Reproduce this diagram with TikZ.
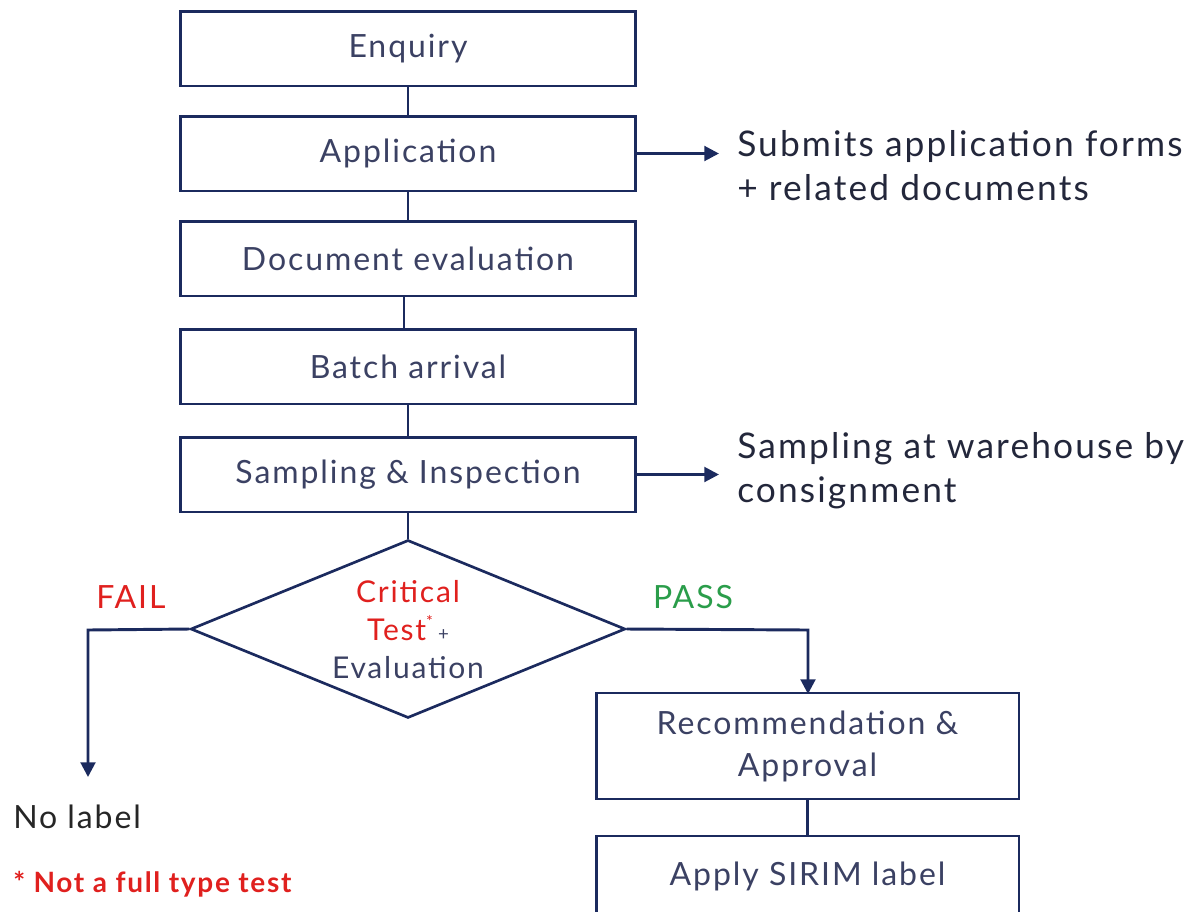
\documentclass[tikz,border=0pt]{standalone}
\usepackage{fontspec}
\setmainfont{Lato}[LetterSpace=6]
\usetikzlibrary{shapes.geometric,arrows.meta}
\definecolor{navy}{HTML}{1B2A5E}
\definecolor{ink}{HTML}{3B4163}
\definecolor{alert}{HTML}{E0201E}
\definecolor{okgreen}{HTML}{2A9D4A}
\tikzset{
  stage/.style={draw=navy, line width=2pt, minimum width=341pt, inner sep=0pt,
    text=ink, font=\fontsize{24}{29}\selectfont, align=center},
  link/.style={draw=navy, line width=2.2pt},
  flow/.style={link, -{Triangle[length=11pt,width=11pt]}},
  note/.style={anchor=west, text=ink!60!black, font=\fontsize{26.5}{33}\selectfont, align=left, inner sep=0pt},
}
\begin{document}
\begin{tikzpicture}[x=0.75pt,y=-0.75pt]
\useasboundingbox (0,0) rectangle (1202,911);
\begin{scope}
\clip (0,0) rectangle (1202,911);
% main column of stages
\node[stage, minimum height=56pt] (enq) at (408,48.5) {Enquiry};
\node[stage, minimum height=56pt] (app) at (408,153.5) {Application};
\node[stage, minimum height=56pt] (doc) at (408,258.5) {Document evaluation};
\node[stage, minimum height=56pt] (bat) at (408,366.5) {Batch arrival};
\node[stage, minimum height=56pt] (smp) at (408,474.5) {Sampling \& Inspection};
% decision
\node[draw=navy, line width=2pt, shape=diamond, aspect=2.44, inner sep=0pt,
  minimum width=326pt, minimum height=133.5pt] (crit) at (408,629) {};
\node[align=center, font=\fontsize{22.5}{28.5}\selectfont, text=ink] (critt) at (408,630)
  {\textcolor{alert}{Critical}\\\textcolor{alert}{Test\raisebox{0.45em}{\fontsize{12}{12}\selectfont*}}\,{\fontsize{14}{14}\selectfont+}\\Evaluation};
% pass branch
\node[stage, minimum width=317pt, minimum height=79.5pt, font=\fontsize{24}{31.5}\selectfont] (rec) at (807.5,746) {Recommendation \&\\Approval};
\node[stage, minimum width=317pt, minimum height=79.5pt] (sir) at (807.5,889) {};
\node[text=ink, font=\fontsize{24}{29}\selectfont] (sirt) at (807.5,876) {Apply SIRIM label};
% side notes
\node[note] (subm) at (737,166) {Submits application forms\\+ related documents};
\node[note] (cons) at (737,471) {Sampling at warehouse by\\consignment};
\coordinate (subend) at (719,153.5);
\coordinate (conend) at (719,474.5);
% connectors
\draw[link] (enq) -- (app);
\draw[link] (app) -- (doc);
\draw[link] ([xshift=-3pt]doc.south) -- ([xshift=-3pt]bat.north);
\draw[link] (bat) -- (smp);
\draw[link] (smp.south) -- (crit.north);
\draw[link] (rec) -- (sir);
\draw[flow] (app.east) -- (subend);
\draw[flow] (smp.east) -- (conend);
\coordinate (failend) at (88,777);
\coordinate (passend) at (808,694);
\draw[flow] (crit.west) -- (88,630) -- (failend);
\draw[flow] (crit.east) -- (808,630) -- (passend);
% branch labels
\node[text=alert, font=\fontsize{24}{28}\selectfont] (fail) at (131,597) {FAIL};
\node[text=okgreen, font=\fontsize{24}{28}\selectfont] (pass) at (693,597) {PASS};
\node[anchor=west, inner sep=0pt, text=black!85, font=\fontsize{24}{28}\selectfont] (nolab) at (13,817) {No label};
\node[anchor=west, inner sep=0pt, text=alert, font=\bfseries\fontsize{21}{24}\selectfont] (foot) at (13,884) {* Not a full type test};
\end{scope}
\end{tikzpicture}
\end{document}
